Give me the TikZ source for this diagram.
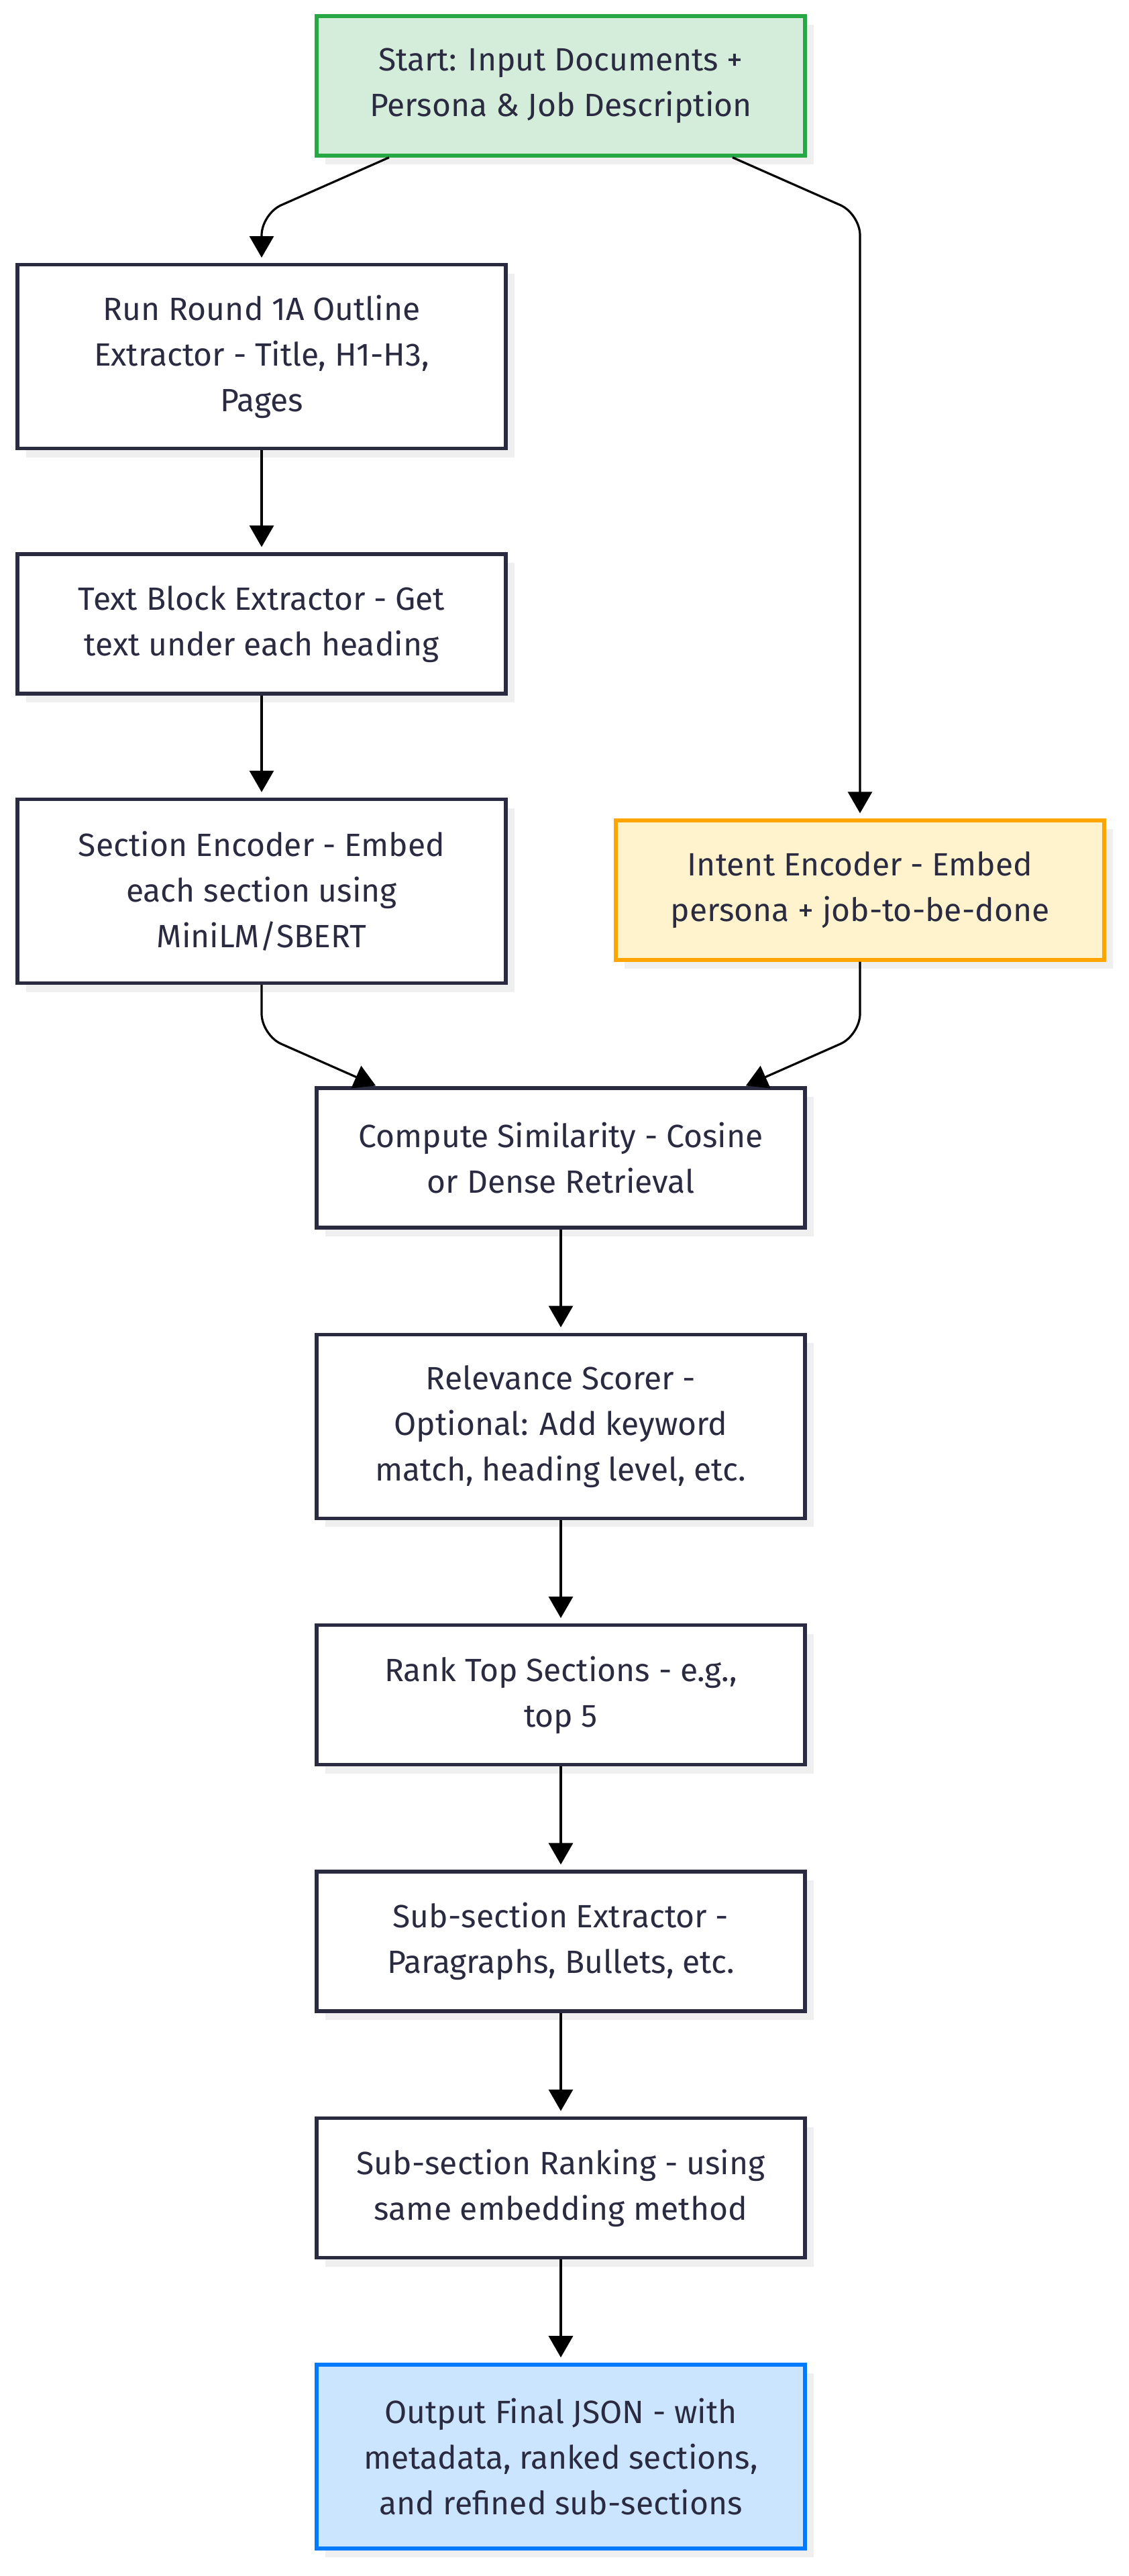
\documentclass[tikz,border=0pt]{standalone}
\usepackage{fontspec}
\setmainfont{Fira Sans}
\usetikzlibrary{positioning,arrows.meta,calc,shadows}

\definecolor{ink}{HTML}{2A2A40}
\definecolor{shade}{HTML}{EFEFEF}
\definecolor{startfill}{HTML}{D4EDDA}
\definecolor{startline}{HTML}{28A745}
\definecolor{intentfill}{HTML}{FFF3CD}
\definecolor{intentline}{HTML}{FFA500}
\definecolor{outfill}{HTML}{CCE5FF}
\definecolor{outline}{HTML}{007BFF}

\begin{document}
\begin{tikzpicture}[
  stepbox/.style={draw=ink, line width=2.7pt, fill=white, text=ink,
    minimum width=364pt, minimum height=104pt, align=center,
    font=\fontsize{24}{34}\selectfont,
    general shadow={fill=shade, shadow xshift=6.5pt, shadow yshift=-6.5pt}},
  tall/.style={minimum height=137pt},
  arr/.style={-{Triangle[length=16pt,width=18pt]}, line width=1.6pt,
    rounded corners=16pt, shorten >=4pt}
]

\useasboundingbox (0,0) rectangle (841pt,-1920pt);

\node[stepbox, fill=startfill, draw=startline] (start) at (418pt,-64pt)
  {Start: Input Documents +\\Persona \& Job Description};

% left column
\node[stepbox, tall, anchor=north] (run) at (195pt,-196pt)
  {Run Round 1A Outline\\Extractor - Title, H1-H3,\\Pages};
\node[stepbox, below=76pt of run] (tbe)
  {Text Block Extractor - Get\\text under each heading};
\node[stepbox, tall, below=76pt of tbe] (sec)
  {Section Encoder - Embed\\each section using\\MiniLM/SBERT};

% right column
\node[stepbox, fill=intentfill, draw=intentline] (intent) at (641pt,-663.5pt)
  {Intent Encoder - Embed\\persona + job-to-be-done};

% main chain
\node[stepbox, anchor=north] (sim) at ($(sec.south -| start)+(0,-75.5pt)$)
  {Compute Similarity - Cosine\\or Dense Retrieval};
\node[stepbox, tall, below=77pt of sim] (rel)
  {Relevance Scorer -\\Optional: Add keyword\\match, heading level, etc.};
\node[stepbox, below=77pt of rel] (rank)
  {Rank Top Sections - e.g.,\\top 5};
\node[stepbox, below=77pt of rank] (subx)
  {Sub-section Extractor -\\Paragraphs, Bullets, etc.};
\node[stepbox, below=77pt of subx] (subr)
  {Sub-section Ranking - using\\same embedding method};
\node[stepbox, tall, fill=outfill, draw=outline, below=77pt of subr] (out)
  {Output Final JSON - with\\metadata, ranked sections,\\and refined sub-sections};

\draw[arr] ([xshift=-128pt]start.south) -- ($(start.south -| run)+(0,-42pt)$) -- (run);
\draw[arr] ([xshift=128pt]start.south) -- ($(start.south -| intent)+(0,-42pt)$) -- (intent);

\draw[arr] (run) -- (tbe);
\draw[arr] (tbe) -- (sec);

\draw[arr, shorten >=1pt] (sec) -- ($(sim.north -| sec)+(0,38pt)$) -- ([xshift=-137pt]sim.north);
\draw[arr, shorten >=1pt] (intent) -- ($(sim.north -| intent)+(0,38pt)$) -- ([xshift=137pt]sim.north);

\draw[arr] (sim) -- (rel);
\draw[arr] (rel) -- (rank);
\draw[arr] (rank) -- (subx);
\draw[arr] (subx) -- (subr);
\draw[arr] (subr) -- (out);

\end{tikzpicture}
\end{document}
